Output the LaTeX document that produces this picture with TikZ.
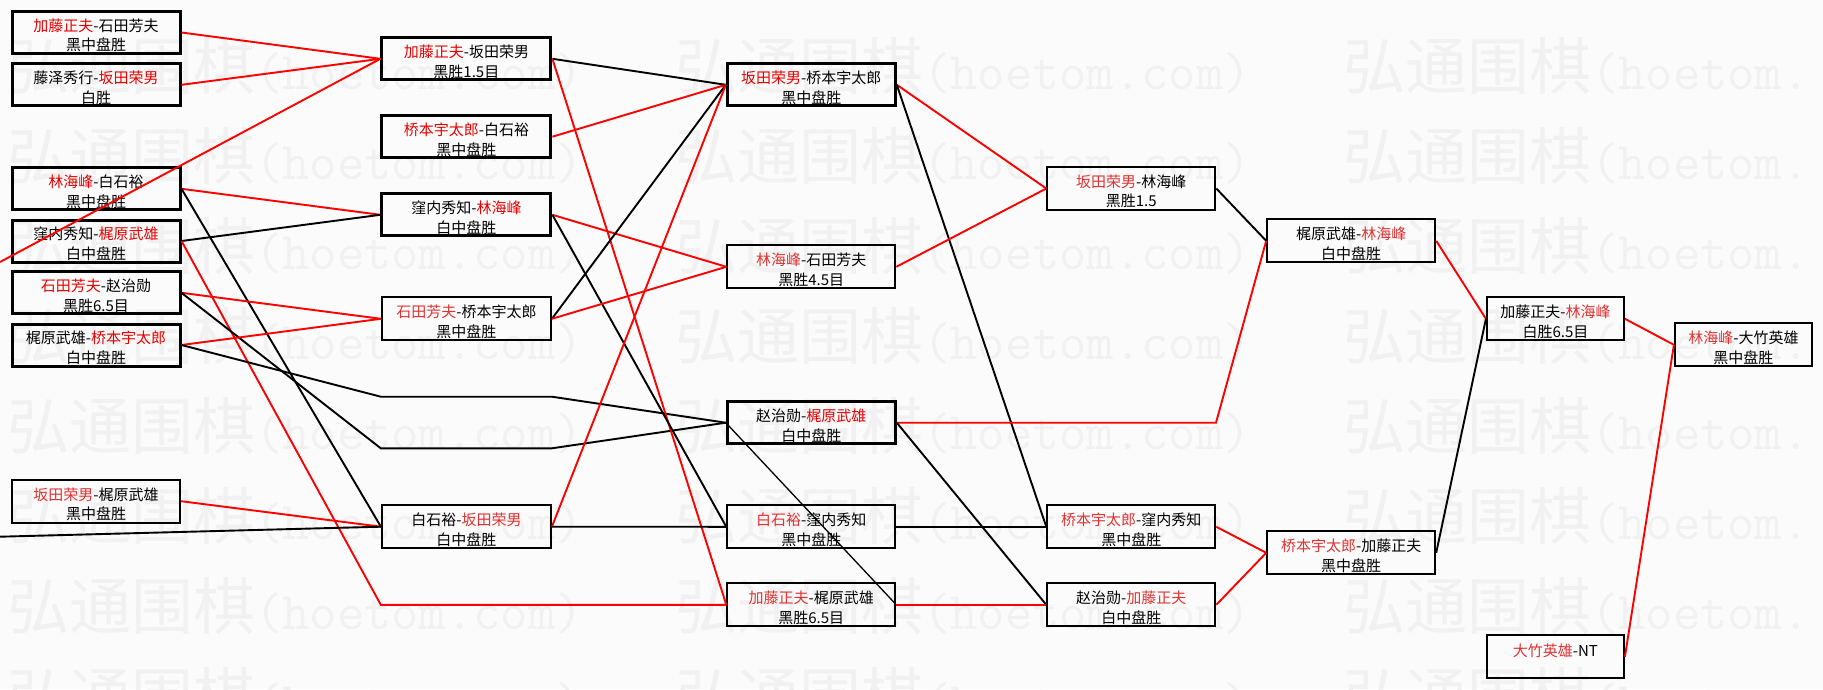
\documentclass[tikz,border=0pt]{standalone}
\usepackage{fontspec}
\setmainfont{Noto Sans CJK SC}
\definecolor{wred}{RGB}{232,0,0}
\definecolor{lred}{RGB}{225,50,50}
\definecolor{wmc}{RGB}{241,241,241}
\definecolor{bgc}{RGB}{251,251,251}
\newcommand\Rd[1]{\textcolor{wred}{#1}}
\newcommand\Rl[1]{\textcolor{lred}{#1}}
\newcommand\TopStrut{\rule{0pt}{18.5pt}}
\tikzset{
  box/.style={draw=black, line width=2pt, rectangle, inner sep=0pt, align=center,
    minimum height=43pt, font=\fontsize{15}{19.5}\selectfont},
  tbox/.style={box, line width=3pt, minimum height=42pt},
  wA/.style={minimum width=168pt},
  wB/.style={minimum width=169pt},
  wS/.style={minimum width=137pt},
  conn/.style={line width=1.9pt},
  rl/.style={conn, draw=red},
  bl/.style={conn, draw=black},
  thinbl/.style={line width=1.3pt, draw=black},
  wmk/.style={text=wmc, inner sep=0pt, anchor=west}
}
\begin{document}
\begin{tikzpicture}[x=1pt,y=-1pt]
\path[use as bounding box, fill=bgc] (0,0) rectangle (1823,689);
% watermark
\foreach \k in {0,...,7}{
  \foreach \j/\xx in {0/7,1/675}{
    \node[wmk] (wm\k\j) at (\xx,{66+90*\k}) {{\fontsize{62}{62}\selectfont 弘通围棋}{\ttfamily\fontsize{53}{53}\selectfont (hoetom.com)}};
  }
  \node[wmk] (wm\k x) at (1343,{66+90*\k}) {{\fontsize{62}{62}\selectfont 弘通围棋}{\ttfamily\fontsize{53}{53}\selectfont (hoetom.}};
}
% column 1
\node[tbox,wA] (A1) at (96,32.5) {\TopStrut{}\Rd{加藤正夫}-石田芳夫\\黑中盘胜};
\node[tbox,wA] (A2) at (96,84.8) {\TopStrut{}藤泽秀行-\Rd{坂田荣男}\\白胜};
\node[tbox,wA] (A3) at (96,188.8) {\TopStrut{}\Rd{林海峰}-白石裕\\黑中盘胜};
\node[tbox,wA] (A4) at (96,241) {\TopStrut{}窪内秀知-\Rd{梶原武雄}\\白中盘胜};
\node[tbox,wA] (A5) at (96,292.8) {\TopStrut{}\Rd{石田芳夫}-赵治勋\\黑胜6.5目};
\node[tbox,wA] (A6) at (96,345) {\TopStrut{}梶原武雄-\Rd{桥本宇太郎}\\白中盘胜};
\node[box,wA] (A7) at (96,501.2) {\TopStrut{}\Rl{坂田荣男}-梶原武雄\\黑中盘胜};
% column 2
\node[tbox,wB] (B1) at (466.4,58.8) {\TopStrut{}\Rd{加藤正夫}-坂田荣男\\黑胜1.5目};
\node[tbox,wB] (B2) at (466.4,136.7) {\TopStrut{}\Rd{桥本宇太郎}-白石裕\\黑中盘胜};
\node[tbox,wB] (B3) at (466.4,214.8) {\TopStrut{}窪内秀知-\Rd{林海峰}\\白中盘胜};
\node[box,wB] (B4) at (466.4,318.8) {\TopStrut{}\Rl{石田芳夫}-桥本宇太郎\\黑中盘胜};
\node[box,wB] (B5) at (466.4,526.7) {\TopStrut{}白石裕-\Rl{坂田荣男}\\白中盘胜};
% column 3
\node[tbox,wA] (C1) at (811.3,84.8) {\TopStrut{}\Rd{坂田荣男}-桥本宇太郎\\黑中盘胜};
\node[box,wA] (C2) at (811.3,266.8) {\TopStrut{}\Rl{林海峰}-石田芳夫\\黑胜4.5目};
\node[tbox,wA] (C3) at (811.3,422.7) {\TopStrut{}赵治勋-\Rd{梶原武雄}\\白中盘胜};
\node[box,wA] (C4) at (811.3,526.8) {\TopStrut{}\Rl{白石裕}-窪内秀知\\黑中盘胜};
\node[box,wA] (C5) at (811.3,604.8) {\TopStrut{}\Rl{加藤正夫}-梶原武雄\\黑胜6.5目};
% column 4
\node[box,wA] (D1) at (1131.3,188.5) {\TopStrut{}\Rl{坂田荣男}-林海峰\\黑胜1.5};
\node[box,wA] (D2) at (1131.3,526.8) {\TopStrut{}\Rl{桥本宇太郎}-窪内秀知\\黑中盘胜};
\node[box,wA] (D3) at (1131.3,604.8) {\TopStrut{}赵治勋-\Rl{加藤正夫}\\白中盘胜};
% column 5
\node[box,wA] (E1) at (1351.2,240.8) {\TopStrut{}梶原武雄-\Rl{林海峰}\\白中盘胜};
\node[box,wA] (E2) at (1351.2,552.8) {\TopStrut{}\Rl{桥本宇太郎}-加藤正夫\\黑中盘胜};
% column 6
\node[box,wS] (F1) at (1555.4,318.8) {\TopStrut{}加藤正夫-\Rl{林海峰}\\白胜6.5目};
\node[box,wS] (F2) at (1555.4,656.7) {\TopStrut{}\Rl{大竹英雄}-NT\\\mbox{}};
% column 7
\node[box,wS] (G1) at (1743.4,344.8) {\TopStrut{}\Rl{林海峰}-大竹英雄\\黑中盘胜};
% route points
\coordinate (fl1) at (0,262);
\coordinate (fl2) at (0,536.7);
\coordinate (p3) at (380.8,604.8);
\coordinate (q1a) at (380.8,396.7);
\coordinate (q1b) at (551.9,396.7);
\coordinate (q2a) at (380.8,448.3);
\coordinate (q2b) at (551.9,448.3);
\coordinate (r1) at (1216,422.7);
% connectors col1 -> col2
\draw[rl] (A1.east) -- (B1.west);
\draw[rl] (A2.east) -- (B1.west);
\draw[rl] (fl1) -- (B1.west);
\draw[rl] (A3.east) -- (B3.west);
\draw[bl] (A3.east) -- (B5.west);
\draw[bl] (A4.east) -- (B3.west);
\draw[rl] (A4.east) -- (p3) -- (C5.west);
\draw[rl] (A5.east) -- (B4.west);
\draw[bl] (A5.east) -- (q2a) -- (q2b) -- (C3.west);
\draw[rl] (A6.east) -- (B4.west);
\draw[bl] (A6.east) -- (q1a) -- (q1b) -- (C3.west);
\draw[rl] (A7.east) -- (B5.west);
\draw[bl] (fl2) -- (B5.west);
% col2 -> col3
\draw[bl] (B1.east) -- (C1.west);
\draw[rl] (B1.east) -- (C5.west);
\draw[rl] (B2.east) -- (C1.west);
\draw[rl] (B3.east) -- (C2.west);
\draw[bl] (B3.east) -- (C4.west);
\draw[bl] (B4.east) -- (C1.west);
\draw[rl] (B4.east) -- (C2.west);
\draw[rl] (B5.east) -- (C1.west);
\draw[bl] (B5.east) -- (C4.west);
\draw[thinbl] (C3.west) -- (C5.east);
% col3 -> col4
\draw[rl] (C1.east) -- (D1.west);
\draw[bl] (C1.east) -- (D2.west);
\draw[rl] (C2.east) -- (D1.west);
\draw[rl] (C3.east) -- (r1) -- (E1.west);
\draw[bl] (C3.east) -- (D3.west);
\draw[bl] (C4.east) -- (D2.west);
\draw[rl] (C5.east) -- (D3.west);
% col4 -> col5
\draw[bl] (D1.east) -- (E1.west);
\draw[rl] (D2.east) -- (E2.west);
\draw[rl] (D3.east) -- (E2.west);
% col5 -> col6
\draw[rl] (E1.east) -- (F1.west);
\draw[bl] (E2.east) -- (F1.west);
% col6 -> col7
\draw[rl] (F1.east) -- (G1.west);
\draw[rl] (F2.east) -- (G1.west);
\end{tikzpicture}
\end{document}
